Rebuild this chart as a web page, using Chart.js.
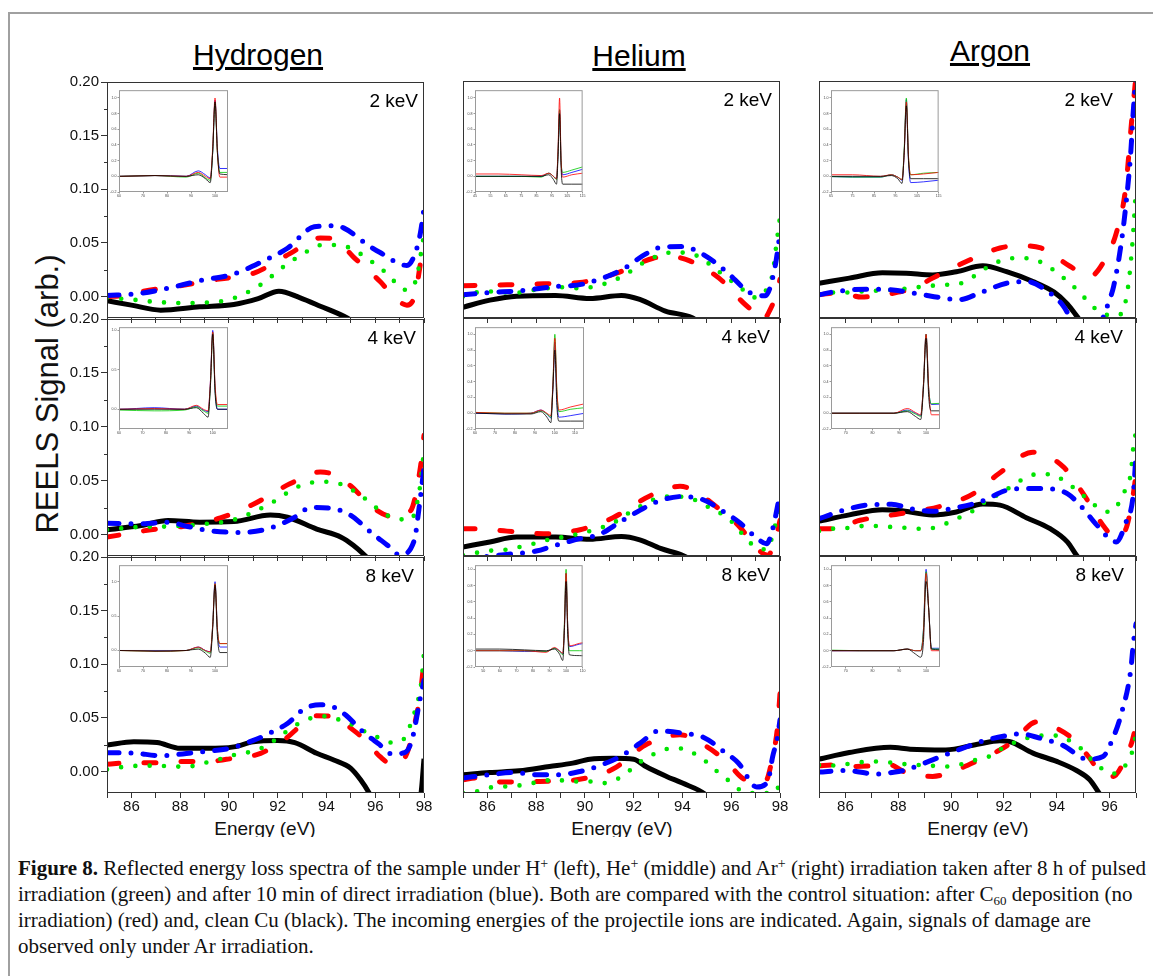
<!DOCTYPE html>
<html>
<head>
<meta charset="utf-8">
<script src="https://cdn.jsdelivr.net/npm/chart.js@4.4.0/dist/chart.umd.min.js"></script>
<style>
  body { margin: 0; background: #fff; width: 1153px; height: 976px; overflow: hidden; position: relative;
         font-family: "Liberation Sans", Arial, sans-serif; }
  #frame { position: absolute; left: 8px; top: 12px; width: 1200px; height: 1000px;
           border-left: 2px solid #a0a0a0; border-top: 2px solid #a0a0a0; }
  canvas { position: absolute; }
  .title { position: absolute; font-size: 30px; line-height: 30px; text-decoration: underline;
           transform: translateX(-50%); white-space: nowrap; color: #000; }
  .xtitle { position: absolute; height: 25px; overflow: hidden; width: 200px; text-align: center;
            font-size: 19px; line-height: 34px; color: #111; }
  #ytitle { position: absolute; left: -152px; top: 374px; width: 400px; height: 40px; line-height: 40px;
            text-align: center; font-size: 31px; transform: rotate(-90deg); color: #111; white-space: nowrap; }
  #caption { position: absolute; left: 18px; top: 855px; font-family: "Liberation Serif", serif;
             font-size: 21px; line-height: 26px; white-space: nowrap; color: #111; letter-spacing: 0; }
  #caption sup { font-size: 14px; line-height: 0; vertical-align: 7px; }
  #caption sub { font-size: 13px; line-height: 0; vertical-align: -4px; }
</style>
</head>
<body>
<div id="frame"></div>
<div class="title" style="left:258px; top:40px;">Hydrogen</div>
<div class="title" style="left:639px; top:41px;">Helium</div>
<div class="title" style="left:990px; top:36px;">Argon</div>
<div id="ytitle">REELS Signal (arb.)</div>
<div class="xtitle" style="left:165px; top:812px;">Energy (eV)</div>
<div class="xtitle" style="left:522px; top:812px;">Energy (eV)</div>
<div class="xtitle" style="left:878px; top:812px;">Energy (eV)</div>
<div id="caption"><b>Figure 8.</b> Reflected energy loss spectra of the sample under H<sup>+</sup> (left), He<sup>+</sup> (middle) and Ar<sup>+</sup> (right) irradiation taken after 8 h of pulsed<br>irradiation (green) and after 10 min of direct irradiation (blue). Both are compared with the control situation: after C<sub>60</sub> deposition (no<br>irradiation) (red) and, clean Cu (black). The incoming energies of the projectile ions are indicated. Again, signals of damage are<br>observed only under Ar irradiation.</div>

<script>
// ---- main panels: [energy eV, signal] pairs ----
// Hydrogen
const h2Black = [[85,-0.004],[86,-0.008],[87.2,-0.0127],[88.8,-0.0096],[90.2,-0.0074],[91.2,-0.002],[92.05,0.005],[92.9,-0.001],[93.75,-0.009],[94.85,-0.02],[95.5,-0.03]];
const h2Red = [[85,0],[85.7,0.001],[86.5,0.005],[88,0.010],[89.5,0.016],[91,0.0216],[92.5,0.040],[93.75,0.0546],[94.3,0.054],[95.1,0.037],[96.2,0.014],[96.6,0.004],[97.3,-0.008],[97.65,0.003],[97.9,0.037],[98,0.045]];
const h2Green = [[85,-0.001],[86.1,-0.003],[86.8,-0.0046],[88,-0.006],[89.1,-0.0056],[90.2,-0.0015],[91.3,0.011],[92.25,0.028],[93.2,0.042],[93.8,0.048],[94.4,0.048],[95,0.045],[95.7,0.035],[96.4,0.023],[97.3,0.006],[97.7,0.0176],[97.9,0.044],[98,0.058]];
const h2Blue = [[85,0.001],[86.2,0.0025],[87.5,0.0077],[88.8,0.0148],[90.2,0.021],[91.4,0.033],[92.4,0.045],[93.5,0.065],[94.3,0.066],[94.7,0.064],[95.7,0.048],[96.2,0.041],[97.3,0.029],[97.65,0.041],[97.85,0.059],[98,0.082]];

const h4Black = [[85,0.0043],[86.4,0.0083],[87.5,0.013],[88.8,0.0114],[90.2,0.012],[91.7,0.018],[92.4,0.016],[93.6,0.005],[94.6,-0.0025],[95.1,-0.010],[95.6,-0.020],[96,-0.03]];
const h4Red = [[85,-0.0025],[86.8,0.0043],[88.1,0.0074],[89.65,0.0154],[91,0.028],[92.5,0.047],[93.75,0.058],[94.3,0.0556],[95,0.045],[95.9,0.025],[96.8,0.016],[97.45,0.022],[97.85,0.062],[98,0.092]];
const h4Green = [[85,0.0043],[86.2,0.0068],[87.5,0.0074],[89.1,0.0099],[90.2,0.0136],[91.8,0.030],[92.8,0.044],[93.75,0.049],[94.6,0.0466],[95.5,0.0346],[96.5,0.0176],[97.45,0.0136],[97.8,0.039],[98,0.078]];
const h4Blue = [[85,0.0105],[86.4,0.0099],[87.5,0.0114],[88.3,0.0074],[89.4,0.003],[90.5,0.0019],[91.7,0.006],[92.7,0.016],[93.35,0.025],[94.3,0.024],[95,0.0176],[95.9,0.0006],[96.5,-0.010],[97,-0.019],[97.6,-0.0056],[97.8,0.025],[98,0.062]];

const h8Black = [[85,0.0247],[86.1,0.0278],[87.05,0.027],[88,0.0216],[89.1,0.0216],[90.2,0.023],[91,0.0278],[92,0.029],[92.7,0.027],[93.6,0.017],[94.3,0.0108],[95,0.003],[95.4,-0.0077],[95.75,-0.02],[96.2,-0.04],[97.6,-0.04],[97.88,-0.02],[98,0.012]];
const h8Red = [[85,0.0068],[86.1,0.0083],[87.05,0.0083],[88.15,0.0093],[89.1,0.0093],[89.9,0.0114],[91.3,0.017],[92.4,0.032],[92.95,0.043],[93.6,0.052],[94.3,0.051],[95.1,0.0386],[95.65,0.028],[96.2,0.0139],[96.75,0.006],[97.3,0.017],[97.65,0.0478],[97.85,0.0725],[98,0.103]];
const h8Green = [[85,0.002],[85.55,0.004],[86.1,0.0052],[86.7,0.0055],[87.3,0.0052],[88,0.0046],[88.55,0.0052],[89.1,0.0086],[89.65,0.0117],[90.2,0.0154],[90.8,0.018],[91.4,0.0225],[91.85,0.0287],[92.3,0.0364],[92.8,0.044],[93.4,0.050],[93.96,0.0515],[94.5,0.0485],[95.05,0.0438],[95.6,0.037],[96.15,0.0315],[96.7,0.027],[97.2,0.031],[97.45,0.044],[97.65,0.058],[97.8,0.071],[97.9,0.085],[98,0.111]];
const h8Blue = [[85,0.0176],[85.7,0.0176],[86.2,0.017],[87.2,0.0148],[88.1,0.0164],[89.1,0.019],[89.9,0.021],[91,0.029],[91.6,0.035],[92.4,0.0448],[93.1,0.0586],[93.75,0.0623],[94.3,0.060],[94.8,0.0525],[95.5,0.037],[96.15,0.0256],[96.7,0.0164],[97.2,0.0176],[97.5,0.029],[97.85,0.069],[98,0.085]];

// Helium
const he2Black = [[85,-0.010],[86.1,-0.0034],[87.2,0.0003],[88.8,0.0009],[90.2,-0.0019],[91.5,0.0009],[92.25,-0.0028],[93.3,-0.0136],[94.4,-0.0198],[95,-0.03]];
const he2Red = [[85,0.0099],[86.8,0.0108],[88.3,0.0117],[89.8,0.013],[91.3,0.0216],[92.8,0.0355],[93.5,0.037],[94.3,0.033],[95.5,0.017],[96.5,-0.006],[97,-0.016],[97.3,-0.022],[97.6,-0.012],[97.85,0.002],[98,0.016]];
const he2Green = [[85,0],[85.55,0.0037],[86.1,0.0046],[86.65,0.0037],[87.3,0.0037],[87.9,0.006],[88.5,0.0077],[89.1,0.0086],[89.65,0.0077],[90.25,0.0086],[90.8,0.0117],[91.3,0.016],[91.85,0.023],[92.3,0.030],[92.9,0.037],[93.5,0.0407],[94,0.0407],[94.6,0.0377],[95.05,0.031],[95.5,0.023],[96,0.0145],[96.5,0.006],[97,-0.001],[97.5,0.0086],[97.7,0.0216],[97.85,0.048],[98,0.074]];
const he2Blue = [[85,0.0015],[86.1,0.0037],[87.3,0.0052],[88.8,0.0093],[89.9,0.0114],[91.5,0.0247],[92.5,0.0395],[93.15,0.0457],[94,0.0463],[94.85,0.039],[95.8,0.023],[96.75,0.0037],[97.4,0.0006],[97.8,0.028],[98,0.0586]];

const he4Black = [[85,-0.0117],[86.1,-0.007],[87.2,-0.0025],[88.8,-0.0025],[90.2,-0.0046],[91.5,-0.0019],[92.25,-0.005],[93.1,-0.013],[94,-0.0194],[94.5,-0.025]];
const he4Red = [[85,0.0052],[85.55,0.0052],[86.8,0.003],[88.3,0.0006],[89.8,0.0043],[91.15,0.0154],[92.7,0.036],[93.9,0.0444],[94.4,0.0414],[95.4,0.0253],[96.35,0.0068],[97,-0.0117],[97.5,-0.0194],[97.8,-0.0056],[98,0.013]];
const he4Green = [[85,-0.0194],[85.55,-0.017],[86.15,-0.015],[86.8,-0.014],[87.3,-0.0117],[87.9,-0.0086],[88.5,-0.005],[89.1,-0.0025],[89.65,0],[90.2,0.003],[90.75,0.0068],[91.3,0.0123],[91.8,0.0198],[92.3,0.0262],[92.85,0.0324],[93.5,0.035],[94,0.0346],[94.6,0.031],[95.1,0.0247],[95.7,0.0176],[96.1,0.0099],[96.5,-0.001],[96.9,-0.010],[97.45,-0.014],[97.7,-0.001],[97.85,0.013],[98,0.025]];
const he4Blue = [[85,-0.024],[85.8,-0.021],[86.8,-0.0185],[88,-0.0154],[88.8,-0.010],[89.8,-0.004],[90.6,0],[91.4,0.0108],[92.25,0.0222],[93.05,0.031],[94,0.035],[94.85,0.032],[95.7,0.0207],[96.35,0.0108],[97,-0.0025],[97.45,-0.0086],[97.7,0.0052],[98,0.0377]];

const he8Black = [[85,-0.003],[86.1,-0.001],[87.3,0.0006],[88.55,0.0046],[89.5,0.0077],[90.2,0.0114],[91.15,0.0123],[92,0.0114],[92.5,0.0046],[93.35,-0.0046],[94,-0.0108],[94.9,-0.0207],[95.3,-0.03]];
const he8Red = [[85,-0.0077],[85.55,-0.006],[86.65,-0.0099],[88.15,-0.0093],[89.65,-0.0077],[91.15,0.0022],[92.5,0.0247],[93.9,0.034],[95,0.023],[95.8,0.0093],[96.6,-0.0077],[97.4,-0.009],[97.7,0.014],[97.9,0.0417],[98,0.0725]];
const he8Green = [[85,-0.02],[85.55,-0.0185],[86.15,-0.0148],[86.7,-0.014],[87.3,-0.013],[87.85,-0.0108],[88.5,-0.0083],[89.1,-0.0083],[89.65,-0.0093],[90.25,-0.0093],[90.8,-0.0108],[91.35,-0.0068],[91.8,0.0003],[92.3,0.0093],[92.85,0.0164],[93.4,0.021],[94,0.0213],[94.5,0.0164],[95,0.0086],[95.45,-0.0006],[95.9,-0.0086],[96.35,-0.017],[96.9,-0.02],[97.45,-0.02],[97.85,-0.019],[98,-0.006]];
const he8Blue = [[85,-0.006],[86.1,-0.003],[87.05,-0.001],[88,-0.003],[88.9,-0.003],[89.8,0],[90.5,0.0046],[91.5,0.0145],[92.25,0.026],[93.05,0.0377],[94,0.0355],[94.85,0.0318],[95.7,0.0185],[96.3,0.0077],[97.05,-0.0145],[97.5,-0.009],[97.7,0.0139],[97.9,0.032],[98,0.048]];

// Argon
const ar2Black = [[85,0.0123],[86.15,0.017],[87.4,0.022],[88.3,0.0216],[89.3,0.020],[90.2,0.023],[91.2,0.0284],[92.1,0.023],[93.1,0.0139],[93.9,0.004],[94.4,-0.007],[94.75,-0.018],[95.1,-0.03]];
const ar2Red = [[85,0.0015],[85.8,0.0037],[86.6,-0.0006],[87.3,0.001],[88,0.004],[88.6,0.008],[89.3,0.017],[90.45,0.031],[91.85,0.045],[92.6,0.047],[93.4,0.045],[94.5,0.028],[95.25,0.0185],[95.75,0.031],[96.25,0.0586],[96.6,0.099],[96.85,0.167],[97,0.205]];
const ar2Green = [[85,0.0015],[85.5,0.0037],[86,0.0037],[86.55,0.0046],[87.1,0.0052],[87.7,0.006],[88.2,0.007],[88.75,0.0086],[89.25,0.0099],[89.8,0.0108],[90.3,0.0117],[90.85,0.0185],[91.3,0.026],[91.8,0.0324],[92.35,0.0355],[92.85,0.0355],[93.35,0.0324],[93.85,0.025],[94.35,0.0154],[94.9,0.003],[95.3,-0.008],[95.7,-0.015],[96.1,-0.018],[96.45,-0.016],[96.7,0.009],[96.85,0.045],[97,0.10]];
const ar2Blue = [[85,0.0015],[85.65,0.0046],[86.8,0.0068],[87.8,0.006],[88.95,0.0015],[89.6,-0.001],[90.3,-0.003],[91.15,0.004],[92.1,0.0123],[92.85,0.0139],[93.75,0.003],[94.25,-0.009],[94.5,-0.02],[94.8,-0.04],[95.5,-0.04],[95.75,-0.02],[96,-0.003],[96.15,0.009],[96.45,0.051],[96.65,0.0926],[96.8,0.133],[96.9,0.173],[97,0.205]];

const ar4Black = [[85,0.0123],[86.15,0.018],[87.4,0.0228],[88.05,0.022],[89.3,0.018],[90.2,0.0207],[91.2,0.028],[91.85,0.027],[92.85,0.0154],[93.75,0.0052],[94.4,-0.007],[94.75,-0.0194],[95.1,-0.03]];
const ar4Red = [[85,0.0052],[85.5,0.0052],[86.55,0.013],[88.05,0.019],[89.6,0.026],[90.85,0.0377],[91.8,0.056],[93.1,0.076],[94.25,0.0623],[95,0.0377],[95.8,0.0068],[96.2,-0.003],[96.6,0.004],[96.85,0.03],[97,0.055]];
const ar4Green = [[85,0.003],[85.5,0.0052],[86.1,0.006],[86.7,0.0077],[87.2,0.0077],[87.75,0.0068],[88.3,0.006],[88.8,0.0052],[89.35,0.006],[89.8,0.0099],[90.3,0.0154],[90.85,0.022],[91.35,0.031],[91.85,0.0377],[92.2,0.043],[92.65,0.05],[93.25,0.0556],[93.75,0.0556],[94.25,0.05],[94.6,0.0438],[95.05,0.035],[95.5,0.026],[96,0.0207],[96.6,0.0414],[96.8,0.056],[96.9,0.081],[97,0.095]];
const ar4Blue = [[85,0.0145],[86,0.0228],[87,0.0275],[87.75,0.0278],[88.45,0.0238],[89.3,0.0213],[90.2,0.0247],[91.1,0.030],[92.2,0.0414],[92.75,0.0423],[93.6,0.0423],[94.4,0.0377],[95,0.0238],[95.5,0.009],[96.25,-0.007],[96.6,0.0099],[96.9,0.0377],[97,0.0747]];

const ar8Black = [[85,0.0114],[86.15,0.0176],[87.7,0.0225],[88.45,0.0207],[89.8,0.020],[91,0.0253],[91.85,0.0284],[92.2,0.0278],[93.1,0.017],[94,0.0093],[94.75,0.0009],[95.25,-0.0077],[95.6,-0.020],[95.9,-0.03]];
const ar8Red = [[85,0.0052],[85.5,0.006],[86.4,0.0046],[87.7,0.006],[88.2,0],[89.3,-0.0046],[90.2,0.0015],[90.95,0.0093],[91.85,0.020],[92.35,0.0278],[93.25,0.046],[93.85,0.0417],[94.5,0.0324],[95.25,0.0123],[95.65,-0.0015],[96.15,-0.0046],[96.45,0.0046],[96.85,0.0278],[97,0.043]];
const ar8Green = [[85,0.006],[85.55,0.0055],[86.1,0.007],[86.6,0.0086],[87.2,0.0093],[87.7,0.0083],[88.25,0.0068],[88.8,0.006],[89.3,0.0052],[89.9,0.0046],[90.45,0.0071],[90.95,0.0108],[91.5,0.0145],[91.9,0.021],[92.4,0.0268],[93,0.0318],[93.5,0.0333],[94.05,0.0333],[94.5,0.0284],[94.95,0.0207],[95.3,0.0114],[95.75,0.002],[96.2,-0.002],[96.7,0.0096],[96.9,0.022],[97,0.035]];
const ar8Blue = [[85,-0.0006],[86,0.0009],[87.2,-0.0025],[87.75,-0.001],[88.3,0.0015],[89.3,0.0108],[90.35,0.0207],[91.35,0.0293],[92.1,0.0333],[92.6,0.035],[93.35,0.031],[94.25,0.024],[95.15,0.0114],[95.75,0.0139],[96.1,0.0293],[96.45,0.054],[96.8,0.094],[96.9,0.119],[97,0.137]];

// ---- insets: full spectra on a shared energy grid ----
const insetEnergy = [45, 60, 75, 88, 93, 96, 98, 99, 100, 101, 102, 108, 115];
const ih2Black = [0, 0, 0.01, 0, 0.02, -0.03, -0.08, 0.3, 0.95, 0.3, 0.03, 0.02, 0.02];
const ih2Red   = [0, 0, 0.01, 0, 0.05, 0, -0.03, 0.35, 1.0, 0.3, -0.01, -0.01, -0.01];
const ih2Green = [0, 0, 0.01, -0.01, 0.04, -0.02, -0.05, 0.3, 0.95, 0.3, 0.05, 0.05, 0.05];
const ih2Blue  = [0, 0, 0.01, 0, 0.07, 0.02, -0.02, 0.3, 0.97, 0.35, 0.1, 0.1, 0.1];
const ihe2Black = [0, 0, 0, 0, 0.02, -0.04, -0.1, 0.25, 0.8, 0.1, -0.1, -0.1, -0.1];
const ihe2Red   = [0.03, 0.03, 0.02, 0.01, 0.04, 0, -0.03, 0.35, 1.0, 0.2, -0.01, 0.02, 0.04];
const ihe2Green = [0, 0, 0, -0.01, 0.04, 0, -0.04, 0.3, 0.85, 0.2, 0.05, 0.08, 0.12];
const ihe2Blue  = [0, 0, 0, 0, 0.04, 0, -0.03, 0.3, 0.85, 0.2, 0.02, 0.05, 0.09];
const iar2Black = [0, 0, 0, 0, 0.01, -0.03, -0.09, 0.3, 0.9, 0.2, -0.03, -0.03, -0.03];
const iar2Red   = [0.02, 0.02, 0.02, 0, 0.02, -0.01, -0.04, 0.3, 0.95, 0.25, 0.02, 0.03, 0.05];
const iar2Green = [0, 0, -0.01, -0.01, 0.02, -0.01, -0.04, 0.35, 1.0, 0.25, 0.02, 0.04, 0.05];
const iar2Blue  = [0, 0, -0.01, -0.01, 0.02, -0.01, -0.05, 0.3, 0.98, 0.2, -0.08, -0.07, -0.05];
const ih4Black = [0, 0, 0, 0, 0.02, -0.05, -0.1, 0.3, 0.95, 0.2, 0, 0, 0];
const ih4Red   = [0, 0, 0.01, 0, 0.05, 0, -0.02, 0.35, 0.98, 0.3, 0.06, 0.06, 0.07];
const ih4Green = [0, -0.01, -0.02, -0.01, 0.03, -0.02, -0.05, 0.3, 0.97, 0.25, 0.04, 0.04, 0.04];
const ih4Blue  = [0, 0, 0.02, 0, 0.04, -0.01, -0.03, 0.35, 1.0, 0.25, 0, 0, 0];
const ihe4Black = [0, 0, -0.01, -0.01, 0.02, -0.05, -0.12, 0.3, 0.8, 0.1, -0.1, -0.1, -0.1];
const ihe4Red   = [0.01, 0.01, 0, 0, 0.04, 0, -0.03, 0.35, 0.95, 0.3, 0.04, 0.08, 0.12];
const ihe4Green = [0.01, 0.01, 0, 0, 0.03, -0.01, -0.05, 0.35, 1.0, 0.3, 0.02, 0.05, 0.07];
const ihe4Blue  = [0, 0, -0.01, 0, 0.04, -0.01, -0.06, 0.3, 0.9, 0.2, -0.05, -0.03, 0];
const iar4Black = [0, 0, 0, 0, 0.02, -0.04, -0.08, 0.3, 0.95, 0.2, 0.03, 0.03, 0.03];
const iar4Red   = [0, 0, 0, 0, 0.06, 0.01, -0.02, 0.35, 1.0, 0.3, -0.02, -0.02, -0.02];
const iar4Green = [0, 0, 0, 0, 0.03, -0.01, -0.04, 0.35, 1.0, 0.3, 0.12, 0.13, 0.13];
const iar4Blue  = [0, 0, 0, 0, 0.04, 0, -0.03, 0.35, 1.0, 0.3, 0.11, 0.12, 0.12];
const ih8Black = [0, 0, -0.01, 0, 0.02, -0.04, -0.1, 0.3, 0.95, 0.2, -0.03, -0.03, -0.03];
const ih8Red   = [0, 0, -0.01, 0, 0.05, 0, -0.02, 0.35, 0.97, 0.3, 0.1, 0.1, 0.1];
const ih8Green = [0, 0, -0.01, 0, 0.04, -0.01, -0.04, 0.35, 0.97, 0.3, 0.1, 0.1, 0.1];
const ih8Blue  = [0, 0, 0, 0, 0.05, 0, -0.02, 0.35, 1.0, 0.3, 0.05, 0.05, 0.05];
const ihe8Black = [0.02, 0.02, 0.01, 0, 0.02, -0.04, -0.12, 0.25, 0.85, 0.2, -0.05, -0.06, -0.07];
const ihe8Red   = [0, 0, 0, -0.02, 0.04, 0, -0.03, 0.3, 0.95, 0.3, 0.06, 0.09, 0.12];
const ihe8Green = [0, 0, 0, -0.01, 0.03, -0.01, -0.05, 0.35, 1.0, 0.3, 0, 0, 0];
const ihe8Blue  = [0, 0, -0.01, -0.01, 0.03, 0, -0.04, 0.3, 0.95, 0.3, 0.05, 0.08, 0.1];
const iar8Black = [0, 0, 0, 0, 0.02, -0.04, -0.08, 0.1, 0.85, 0.5, 0.02, 0.01, 0.01];
const iar8Red   = [0, 0, 0, 0, 0.02, 0, 0, 0.2, 0.95, 0.5, 0, 0, 0];
const iar8Green = [0.01, 0.01, 0, 0, 0.02, 0, 0, 0.25, 0.97, 0.5, 0.02, 0.02, 0.02];
const iar8Blue  = [0, 0, 0, 0, 0.02, 0, 0, 0.25, 1.0, 0.5, 0.03, 0.03, 0.03];

// ticks / labels
const energyLabels = ['2 keV', '4 keV', '8 keV'];
const xTickValues = [85, 86, 87, 88, 89, 90, 91, 92, 93, 94, 95, 96, 97, 98];
const yTickValues = [0, 0.05, 0.10, 0.15, 0.20];
const yMinorValues = [0.025, 0.075, 0.125, 0.175];
const xMaxByCol = [98, 98, 97];

// rows = 2, 4, 8 keV ; cols = H, He, Ar ; series order black, red, green, blue
const panelSeries = [
  [[h2Black, h2Red, h2Green, h2Blue], [he2Black, he2Red, he2Green, he2Blue], [ar2Black, ar2Red, ar2Green, ar2Blue]],
  [[h4Black, h4Red, h4Green, h4Blue], [he4Black, he4Red, he4Green, he4Blue], [ar4Black, ar4Red, ar4Green, ar4Blue]],
  [[h8Black, h8Red, h8Green, h8Blue], [he8Black, he8Red, he8Green, he8Blue], [ar8Black, ar8Red, ar8Green, ar8Blue]]
];
const insetSeries = [
  [[ih2Black, ih2Red, ih2Green, ih2Blue], [ihe2Black, ihe2Red, ihe2Green, ihe2Blue], [iar2Black, iar2Red, iar2Green, iar2Blue]],
  [[ih4Black, ih4Red, ih4Green, ih4Blue], [ihe4Black, ihe4Red, ihe4Green, ihe4Blue], [iar4Black, iar4Red, iar4Green, iar4Blue]],
  [[ih8Black, ih8Red, ih8Green, ih8Blue], [ihe8Black, ihe8Red, ihe8Green, ihe8Blue], [iar8Black, iar8Red, iar8Green, iar8Blue]]
];
// inset axis ranges [xmin, xmax, ymin, ymax, ystep]
const insetAxes = [
  [[60, 105.4, -0.2, 1.1, 0.2], [45, 115, -0.2, 1.1, 0.2], [65, 115, -0.2, 1.1, 0.2]],
  [[60, 106.5, -0.25, 1.04, 0.5], [60, 114.6, -0.2, 1.09, 0.2], [64.5, 105.2, -0.2, 1.09, 0.2]],
  [[60, 105.4, -0.24, 1.24, 0.5], [45, 110, -0.2, 1.05, 0.2], [64.5, 105.2, -0.2, 1.05, 0.2]]
];

// layout
const plotLeft = [107, 463, 819];
const plotTop = [81, 318, 556];
const plotW = 317;
const plotH = [237, 238, 237];
const labelInset = [[6, 8, 23], [8, 10, 13], [10, 10, 12]];

const lineStyles = [
  { color: '#000000', width: 5, dash: [], cap: 'butt' },
  { color: '#ff0000', width: 5, dash: [12, 25], cap: 'round' },
  { color: '#00e400', width: 4.6, dash: [0, 14.3], cap: 'round' },
  { color: '#0000ff', width: 5, dash: [12, 12, 0, 12], cap: 'round' }
];
const insetColors = ['#000000', '#ff0000', '#00c800', '#0000ff'];

// frame box + minor ticks + energy label
const panelFrame = {
  id: 'panelFrame',
  afterDraw(chart, args, opts) {
    const { ctx, chartArea: a } = chart;
    ctx.save();
    ctx.strokeStyle = opts.color;
    ctx.lineWidth = opts.width;
    ctx.strokeRect(a.left + 0.5, a.top + 0.5, a.width - 1, a.height - 1);
    if (opts.minorY) {
      const y = chart.scales.y;
      ctx.beginPath();
      opts.minorY.forEach(v => {
        const py = Math.round(y.getPixelForValue(v)) + 0.5;
        ctx.moveTo(a.left - 3, py);
        ctx.lineTo(a.left, py);
      });
      ctx.stroke();
    }
    if (opts.label) {
      ctx.fillStyle = '#000';
      ctx.font = '19px "Liberation Sans", Arial, sans-serif';
      ctx.textAlign = 'right';
      ctx.textBaseline = 'alphabetic';
      ctx.fillText(opts.label, a.right - opts.labelInset, a.top + 25);
    }
    ctx.restore();
  }
};
Chart.register(panelFrame);

function makeCanvas(left, top, w, h) {
  const cv = document.createElement('canvas');
  cv.width = w; cv.height = h;
  cv.style.left = left + 'px';
  cv.style.top = top + 'px';
  cv.style.width = w + 'px';
  cv.style.height = h + 'px';
  document.body.appendChild(cv);
  return cv;
}

function makePanel(row, col) {
  const padL = 60, padT = 10, padR = 10, padB = 40;
  const cv = makeCanvas(plotLeft[col] - padL, plotTop[row] - padT, padL + plotW + padR, padT + plotH[row] + padB);
  const series = panelSeries[row][col];
  const xMax = xMaxByCol[col];
  const datasets = series.map((pts, i) => ({
    data: pts.map(p => ({ x: p[0], y: p[1] })),
    borderColor: lineStyles[i].color,
    borderWidth: lineStyles[i].width,
    borderDash: lineStyles[i].dash,
    borderCapStyle: lineStyles[i].cap,
    borderJoinStyle: 'round',
    cubicInterpolationMode: 'monotone',
    pointRadius: 0,
    fill: false,
    clip: 0,
    order: 3 - i
  }));
  const showY = col === 0;
  const showX = row === 2;
  new Chart(cv, {
    type: 'line',
    data: { datasets },
    options: {
      responsive: false,
      animation: false,
      events: [],
      layout: { padding: { left: 0, top: padT, right: padR, bottom: 0 } },
      plugins: {
        legend: { display: false },
        tooltip: { enabled: false },
        panelFrame: { color: '#333', width: 1, minorY: showY ? yMinorValues : null,
                      label: energyLabels[row], labelInset: labelInset[row][col] }
      },
      scales: {
        x: {
          type: 'linear', min: 85, max: xMax,
          afterFit: s => { s.height = padB; },
          afterBuildTicks: s => { s.ticks = xTickValues.filter(v => v <= xMax).map(v => ({ value: v })); },
          border: { display: false },
          grid: { drawOnChartArea: false, drawTicks: true, tickLength: 5, color: '#333' },
          ticks: {
            display: showX, autoSkip: false, maxRotation: 0, padding: 0, color: '#111',
            font: { family: 'Liberation Sans', size: 15 },
            callback: v => (v % 2 === 0 ? String(v) : '')
          }
        },
        y: {
          type: 'linear', min: -0.02, max: 0.20,
          afterFit: s => { s.width = padL; },
          afterBuildTicks: s => { s.ticks = yTickValues.map(v => ({ value: v })); },
          border: { display: false },
          grid: { drawOnChartArea: false, drawTicks: showY, tickLength: 6, color: '#333' },
          ticks: {
            display: showY, padding: 2, color: '#111',
            font: { family: 'Liberation Sans', size: 15 },
            callback: v => v.toFixed(2)
          }
        }
      }
    }
  });
}

function makeInset(row, col) {
  const boxW = 109, boxH = 103;
  const padL = 12, padT = 2, padR = 2, padB = 8;
  const bx = plotLeft[col] + 12, by = plotTop[row] + 8;
  const cv = makeCanvas(bx - padL, by - padT, padL + boxW + padR, padT + boxH + padB);
  const ax = insetAxes[row][col];
  const datasets = insetSeries[row][col].map((vals, i) => ({
    data: vals.map((v, k) => ({ x: insetEnergy[k], y: v })),
    borderColor: insetColors[i],
    borderWidth: 0.8,
    cubicInterpolationMode: 'monotone',
    pointRadius: 0,
    fill: false,
    clip: 0,
    order: i
  }));
  new Chart(cv, {
    type: 'line',
    data: { datasets },
    options: {
      responsive: false,
      animation: false,
      events: [],
      layout: { padding: { left: 0, top: padT, right: padR, bottom: 0 } },
      plugins: {
        legend: { display: false },
        tooltip: { enabled: false },
        panelFrame: { color: '#9a9a9a', width: 1 }
      },
      scales: {
        x: {
          type: 'linear', min: ax[0], max: ax[1],
          afterFit: s => { s.height = padB; },
          border: { display: false },
          grid: { drawOnChartArea: false, tickLength: 1.5, color: '#999' },
          ticks: { stepSize: 10, includeBounds: false, autoSkip: false, maxRotation: 0, padding: 0.5,
                   color: '#444', font: { family: 'Liberation Sans', size: 3.6 },
                   callback: v => String(v) }
        },
        y: {
          type: 'linear', min: ax[2], max: ax[3],
          afterFit: s => { s.width = padL; },
          border: { display: false },
          grid: { drawOnChartArea: false, tickLength: 1.5, color: '#999' },
          ticks: { stepSize: ax[4], includeBounds: false, autoSkip: false, padding: 1,
                   color: '#444', font: { family: 'Liberation Sans', size: 3.6 },
                   callback: v => v.toFixed(1) }
        }
      }
    }
  });
}

for (let r = 0; r < 3; r++) for (let c = 0; c < 3; c++) makePanel(r, c);
for (let r = 0; r < 3; r++) for (let c = 0; c < 3; c++) makeInset(r, c);
</script>
</body>
</html>
